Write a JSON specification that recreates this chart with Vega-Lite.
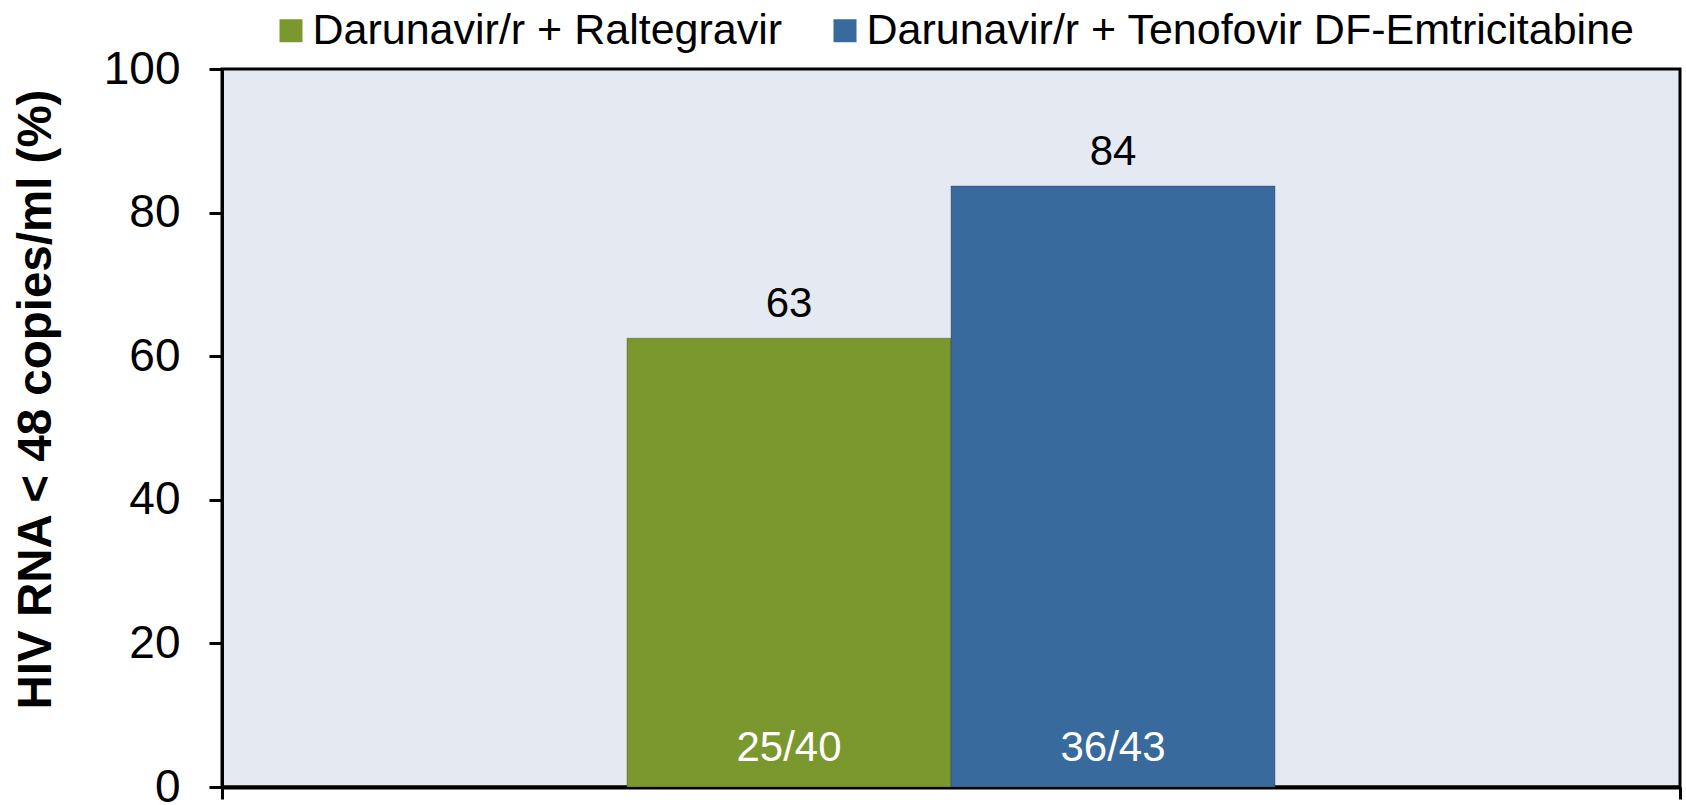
{
  "$schema": "https://vega.github.io/schema/vega-lite/v6.json",
  "width": 1458,
  "height": 718,
  "autosize": {"type": "none"},
  "padding": {"left": 222, "top": 69, "right": 6, "bottom": 18},
  "background": "white",
  "config": {
    "font": "Liberation Sans",
    "view": {"fill": "#E4E9F2", "stroke": "black", "strokeWidth": 3}
  },
  "data": {
    "values": [
      {"week": "W48", "regimen": "Darunavir/r + Raltegravir", "pct": 62.5, "label": "63", "n": "25/40"},
      {"week": "W48", "regimen": "Darunavir/r + Tenofovir DF-Emtricitabine", "pct": 83.7, "label": "84", "n": "36/43"}
    ]
  },
  "encoding": {
    "x": {
      "field": "week",
      "type": "nominal",
      "scale": {"paddingInner": 0, "paddingOuter": 0},
      "axis": {
        "labels": false,
        "title": null,
        "tickBand": "extent",
        "tickSize": 12,
        "tickWidth": 3,
        "tickColor": "black",
        "domainColor": "black",
        "domainWidth": 4
      }
    },
    "xOffset": {
      "field": "regimen",
      "type": "nominal",
      "scale": {
        "domain": ["pad-left", "Darunavir/r + Raltegravir", "Darunavir/r + Tenofovir DF-Emtricitabine", "pad-right"],
        "paddingInner": 0,
        "paddingOuter": 0.25
      }
    },
    "y": {
      "field": "pct",
      "type": "quantitative",
      "scale": {"domain": [0, 100], "nice": false},
      "axis": {
        "title": "HIV RNA < 48 copies/ml (%)",
        "titleFontSize": 47.5,
        "titleFontWeight": "bold",
        "titleColor": "black",
        "titleX": -172,
        "titleY": 330,
        "titleAngle": -90,
        "titleAlign": "center",
        "titleBaseline": "alphabetic",
        "values": [0, 20, 40, 60, 80, 100],
        "grid": false,
        "labelFontSize": 46,
        "labelColor": "black",
        "labelPadding": 29,
        "labelFlush": false,
        "labelBaseline": "middle",
        "tickSize": 13,
        "tickWidth": 3,
        "tickColor": "black",
        "domainColor": "black",
        "domainWidth": 3
      }
    }
  },
  "layer": [
    {
      "mark": {"type": "bar", "stroke": "#333333", "strokeOpacity": 0.35, "strokeWidth": 1},
      "encoding": {
        "color": {
          "field": "regimen",
          "type": "nominal",
          "scale": {
            "domain": ["Darunavir/r + Raltegravir", "Darunavir/r + Tenofovir DF-Emtricitabine"],
            "range": ["#7B982F", "#386A9D"]
          },
          "legend": {
            "orient": "none",
            "legendX": 47.5,
            "legendY": -60,
            "direction": "horizontal",
            "title": null,
            "symbolType": "square",
            "symbolSize": 529,
            "symbolStrokeWidth": 0,
            "symbolOpacity": 1,
            "labelFontSize": 43,
            "labelColor": "black",
            "labelOffset": 0,
            "labelLimit": 1000,
            "columnPadding": 41,
            "padding": 0
          }
        }
      }
    },
    {
      "mark": {"type": "text", "dy": -21, "baseline": "alphabetic", "fontSize": 42, "color": "black"},
      "encoding": {"text": {"field": "label"}}
    },
    {
      "mark": {"type": "text", "dy": -26, "baseline": "alphabetic", "fontSize": 42, "color": "white"},
      "encoding": {"y": {"datum": 0}, "text": {"field": "n"}}
    }
  ]
}
